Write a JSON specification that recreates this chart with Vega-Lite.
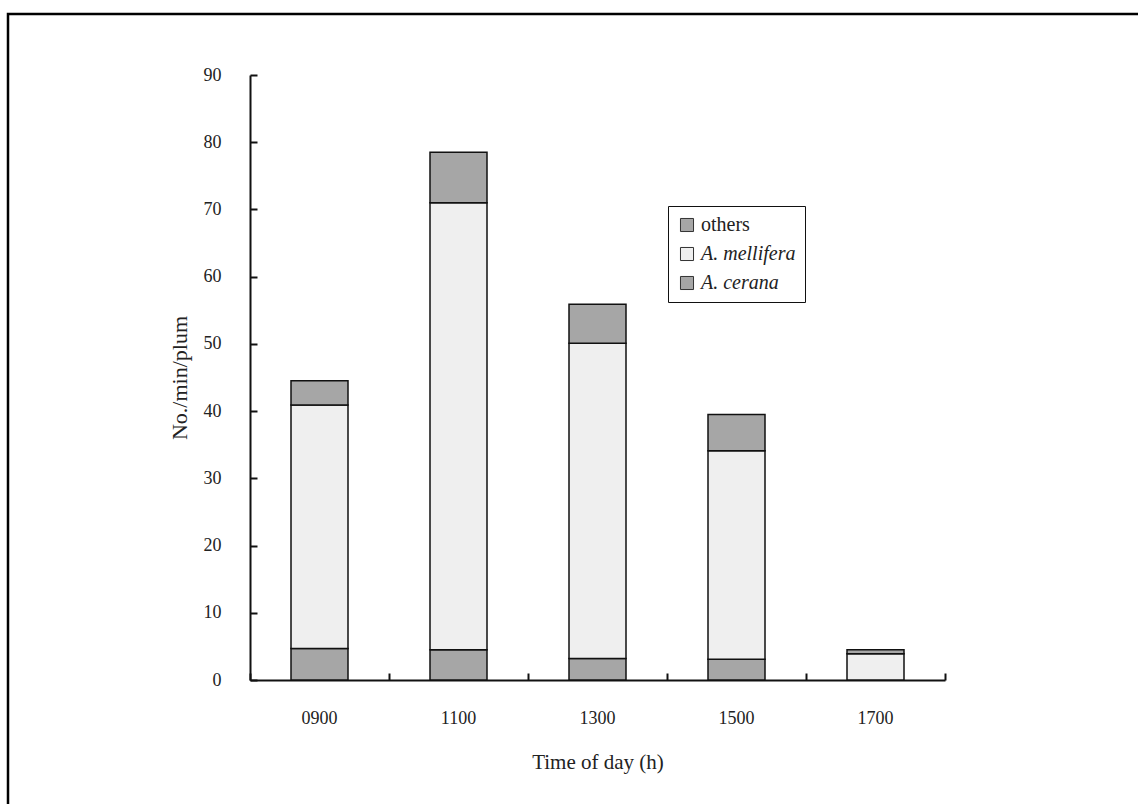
{
  "$schema": "https://vega.github.io/schema/vega-lite/v6.json",
  "autosize": "none",
  "padding": {"left": 8, "top": 14, "right": 0, "bottom": 0},
  "width": 1140,
  "height": 800,
  "background": "white",
  "config": {
    "view": {"stroke": "#000", "strokeWidth": 2.5},
    "font": "Liberation Serif",
    "axis": {"grid": false, "domainColor": "#111", "tickColor": "#111", "labelColor": "#222", "titleColor": "#222"}
  },
  "data": {
    "values": [
      {"time": "0900", "species": "A. cerana", "ord": 1, "count": 4.7},
      {"time": "0900", "species": "A. mellifera", "ord": 2, "count": 36.2},
      {"time": "0900", "species": "others", "ord": 3, "count": 3.6},
      {"time": "1100", "species": "A. cerana", "ord": 1, "count": 4.5},
      {"time": "1100", "species": "A. mellifera", "ord": 2, "count": 66.5},
      {"time": "1100", "species": "others", "ord": 3, "count": 7.5},
      {"time": "1300", "species": "A. cerana", "ord": 1, "count": 3.2},
      {"time": "1300", "species": "A. mellifera", "ord": 2, "count": 46.9},
      {"time": "1300", "species": "others", "ord": 3, "count": 5.8},
      {"time": "1500", "species": "A. cerana", "ord": 1, "count": 3.1},
      {"time": "1500", "species": "A. mellifera", "ord": 2, "count": 31.0},
      {"time": "1500", "species": "others", "ord": 3, "count": 5.4},
      {"time": "1700", "species": "A. cerana", "ord": 1, "count": 0},
      {"time": "1700", "species": "A. mellifera", "ord": 2, "count": 3.9},
      {"time": "1700", "species": "others", "ord": 3, "count": 0.6}
    ]
  },
  "mark": {"type": "bar", "size": 57, "stroke": "#111", "strokeWidth": 1.5},
  "encoding": {
    "x": {
      "field": "time",
      "type": "ordinal",
      "sort": ["0900", "1100", "1300", "1500", "1700"],
      "scale": {"range": [242, 937], "paddingInner": 0, "paddingOuter": 0},
      "axis": {
        "orient": "bottom",
        "offset": -134,
        "bandPosition": 1,
        "tickExtra": true,
        "tickSize": -7,
        "tickWidth": 2,
        "domainWidth": 2,
        "labelAngle": 0,
        "labelFontSize": 18,
        "labelPadding": 36,
        "title": "Time of day (h)",
        "titleFontSize": 21,
        "titleFontWeight": "normal",
        "titlePadding": 24
      }
    },
    "y": {
      "field": "count",
      "type": "quantitative",
      "stack": "zero",
      "scale": {"domain": [0, 90], "range": [666, 61], "nice": false},
      "axis": {
        "orient": "left",
        "offset": -242,
        "values": [0, 10, 20, 30, 40, 50, 60, 70, 80, 90],
        "tickSize": -7,
        "tickWidth": 2,
        "domainWidth": 2,
        "labelFontSize": 18,
        "labelPadding": 36,
        "title": "No./min/plum",
        "titleFontSize": 22,
        "titleFontWeight": "normal",
        "titlePadding": 12
      }
    },
    "color": {
      "field": "species",
      "type": "nominal",
      "scale": {"domain": ["others", "A. mellifera", "A. cerana"], "range": ["#a6a6a6", "#efefef", "#a6a6a6"]},
      "legend": {
        "orient": "none",
        "legendX": 660,
        "legendY": 192,
        "title": null,
        "strokeColor": "#111",
        "padding": 9,
        "symbolType": "square",
        "symbolSize": 170,
        "symbolStrokeColor": "#333",
        "symbolStrokeWidth": 1,
        "symbolOpacity": 1,
        "labelFontSize": 20,
        "labelOffset": 4,
        "labelColor": "#222",
        "rowPadding": 9,
        "encode": {
          "labels": {"update": {"fontStyle": {"signal": "datum.label === 'others' ? 'normal' : 'italic'"}}}
        }
      }
    },
    "order": {"field": "ord", "type": "quantitative"}
  }
}
